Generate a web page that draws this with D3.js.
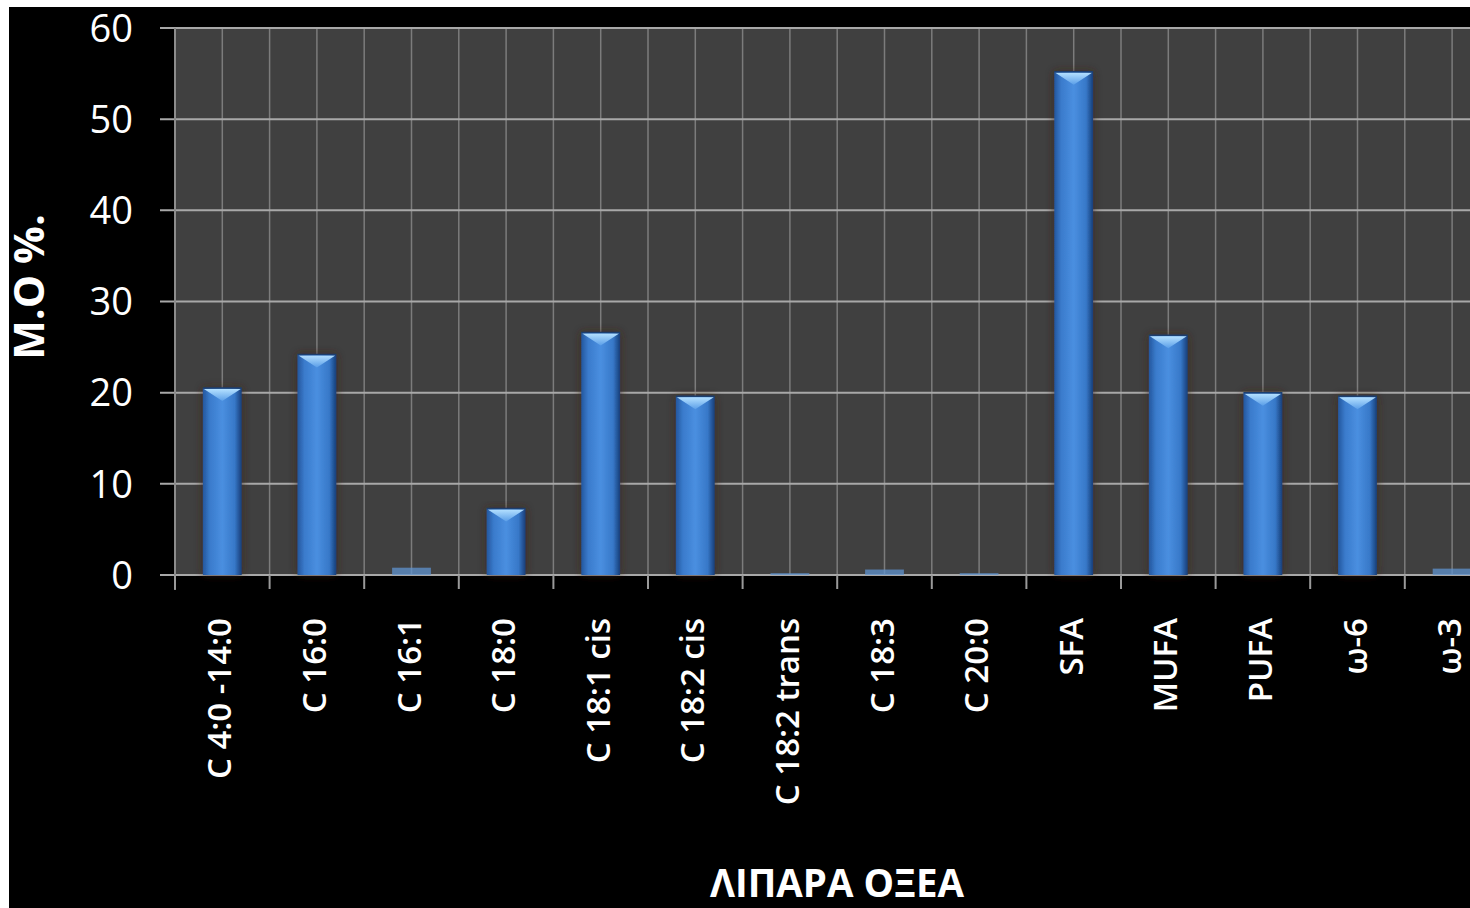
<!DOCTYPE html>
<html>
<head>
<meta charset="utf-8">
<script src="https://cdn.jsdelivr.net/npm/d3@7"></script>
<style>
  html, body { margin: 0; padding: 0; background: #fff; }
  svg { display: block; }
</style>
</head>
<body>
<svg id="chart" width="1470" height="908"></svg>
<script>
// fatty acid categories and mean % values
const categories = ["C 4:0 -14:0", "C 16:0", "C 16:1", "C 18:0", "C 18:1 cis", "C 18:2 cis",
  "C 18:2 trans", "C 18:3", "C 20:0", "SFA", "MUFA", "PUFA", "ω-6", "ω-3"];
const values = [20.5, 24.2, 0.8, 7.3, 26.6, 19.6, 0.2, 0.6, 0.2, 55.2, 26.3, 20.0, 19.6, 0.7];
const yTicks = [0, 10, 20, 30, 40, 50, 60];

const svg = d3.select("#chart");
const W = 1470, H = 908;

// black panel inside a thin white border (top/left)
svg.append("rect").attr("x", 9).attr("y", 7).attr("width", W - 9).attr("height", H - 7).attr("fill", "#000");

const plot = { left: 175, top: 28, bottom: 575, right: 175 + 14 * 94.6 };

const x = d3.scaleBand().domain(categories).range([plot.left, plot.right]);
const y = d3.scaleLinear().domain([0, 60]).range([plot.bottom, plot.top]);

const defs = svg.append("defs");
const clip = defs.append("clipPath").attr("id", "clip");
clip.append("rect").attr("x", plot.left).attr("y", plot.top - 2).attr("width", W - plot.left).attr("height", plot.bottom - plot.top + 4);

const barGrad = defs.append("linearGradient").attr("id", "barGrad").attr("x1", 0).attr("x2", 1).attr("y1", 0).attr("y2", 0);
barGrad.append("stop").attr("offset", "0%").attr("stop-color", "#24579e");
barGrad.append("stop").attr("offset", "18%").attr("stop-color", "#3a7bcc");
barGrad.append("stop").attr("offset", "50%").attr("stop-color", "#4a8fe0");
barGrad.append("stop").attr("offset", "82%").attr("stop-color", "#3778c8");
barGrad.append("stop").attr("offset", "100%").attr("stop-color", "#173e78");

const capGrad = defs.append("linearGradient").attr("id", "capGrad").attr("x1", 0).attr("x2", 0).attr("y1", 0).attr("y2", 1);
capGrad.append("stop").attr("offset", "0%").attr("stop-color", "#b4e0ff");
capGrad.append("stop").attr("offset", "100%").attr("stop-color", "#5a9ee8");

const shadow = defs.append("filter").attr("id", "shadow").attr("x", "-30%").attr("y", "-10%").attr("width", "160%").attr("height", "120%");
shadow.append("feGaussianBlur").attr("in", "SourceAlpha").attr("stdDeviation", 4).attr("result", "b");
shadow.append("feFlood").attr("flood-color", "#3a2418").attr("flood-opacity", 0.8);
shadow.append("feComposite").attr("in2", "b").attr("operator", "in").attr("result", "s");
const merge = shadow.append("feMerge");
merge.append("feMergeNode").attr("in", "s");
merge.append("feMergeNode").attr("in", "SourceGraphic");

// plot background
svg.append("rect")
  .attr("x", plot.left).attr("y", plot.top)
  .attr("width", W - plot.left).attr("height", plot.bottom - plot.top)
  .attr("fill", "#404040");

const grid = svg.append("g").attr("clip-path", "url(#clip)");

// vertical grid at category edges and centres
const vLines = [];
categories.forEach(c => { vLines.push(x(c)); vLines.push(x(c) + x.bandwidth() / 2); });
grid.selectAll("line.v").data(vLines).join("line")
  .attr("class", "v")
  .attr("x1", d => d).attr("x2", d => d)
  .attr("y1", plot.top).attr("y2", plot.bottom)
  .attr("stroke", "#7c7c7c").attr("stroke-width", 1.5);

// horizontal grid
svg.append("g").selectAll("line").data(yTicks).join("line")
  .attr("x1", plot.left - 15).attr("x2", W)
  .attr("y1", d => y(d)).attr("y2", d => y(d))
  .attr("stroke", "#a8a8a8").attr("stroke-width", 2);

// left axis line
svg.append("line")
  .attr("x1", plot.left).attr("x2", plot.left)
  .attr("y1", plot.top).attr("y2", plot.bottom + 15)
  .attr("stroke", "#8c8c8c").attr("stroke-width", 2);

// bottom ticks at category edges
svg.append("g").selectAll("line").data(categories).join("line")
  .attr("x1", d => x(d)).attr("x2", d => x(d))
  .attr("y1", plot.bottom).attr("y2", plot.bottom + 14)
  .attr("stroke", "#9a9a9a").attr("stroke-width", 2);

// bars
const barW = x.bandwidth() * 0.41;
const bars = svg.append("g").selectAll("g").data(categories.map((c, i) => ({ c, v: values[i] }))).join("g")
  .attr("transform", d => `translate(${x(d.c) + x.bandwidth() / 2 - barW / 2},0)`);

bars.append("rect")
  .attr("y", d => y(d.v))
  .attr("width", barW)
  .attr("height", d => y(0) - y(d.v))
  .attr("fill", d => d.v < 2 ? "#5f93cf" : "url(#barGrad)")
  .attr("opacity", d => d.v < 2 ? 0.75 : 1)
  .attr("filter", d => d.v < 2 ? null : "url(#shadow)");

bars.filter(d => d.v >= 2).append("path")
  .attr("d", d => {
    const t = y(d.v);
    return `M1,${t + 1} L${barW - 1},${t + 1} L${barW / 2},${t + 13} Z`;
  })
  .attr("fill", "url(#capGrad)");

bars.filter(d => d.v >= 2).append("line")
  .attr("x1", 0).attr("x2", barW)
  .attr("y1", d => y(d.v)).attr("y2", d => y(d.v))
  .attr("stroke", "#1c3f70").attr("stroke-width", 1.5);

// y tick labels
svg.append("g").selectAll("text").data(yTicks).join("text")
  .attr("x", 133).attr("y", d => y(d))
  .attr("dy", "0.36em")
  .attr("text-anchor", "end")
  .attr("fill", "#fff")
  .attr("font-family", "'Open Sans', sans-serif")
  .attr("font-size", 38)
  .text(d => d);

// x labels, rotated
svg.append("g").selectAll("text").data(categories).join("text")
  .attr("transform", d => `translate(${x(d) + x.bandwidth() / 2 + 9},618) rotate(-90)`)
  .attr("text-anchor", "end")
  .attr("fill", "#fff")
  .attr("font-family", "'Open Sans', sans-serif")
  .attr("font-weight", 600)
  .attr("font-size", 33)
  .text(d => d);

// axis titles
svg.append("text")
  .attr("transform", "translate(44,287) rotate(-90)")
  .attr("text-anchor", "middle")
  .attr("fill", "#fff")
  .attr("font-family", "'Open Sans', sans-serif")
  .attr("font-weight", "bold")
  .attr("font-size", 42)
  .text("Μ.Ο %.");

svg.append("text")
  .attr("x", 837).attr("y", 897)
  .attr("text-anchor", "middle")
  .attr("fill", "#fff")
  .attr("font-family", "'Open Sans', sans-serif")
  .attr("font-weight", "bold")
  .attr("font-size", 40)
  .attr("textLength", 254)
  .attr("lengthAdjust", "spacingAndGlyphs")
  .text("ΛΙΠΑΡΑ ΟΞΕΑ");
</script>
</body>
</html>
